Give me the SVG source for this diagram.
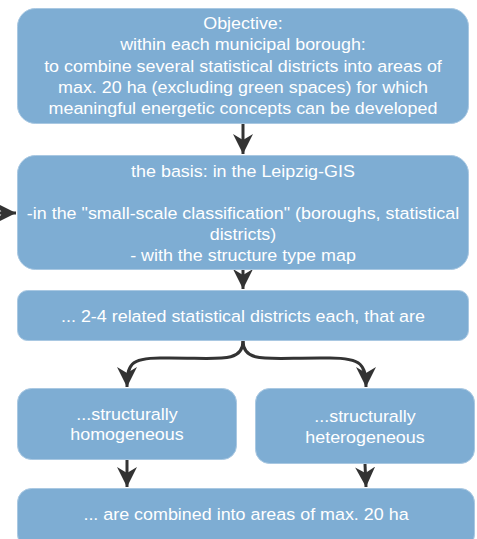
<svg xmlns="http://www.w3.org/2000/svg" width="477" height="539" viewBox="0 0 477 539">
  <style>
    .box { fill: #7eadd3; stroke: #a9c8e2; stroke-width: 1; }
    .lbl { fill: #ffffff; font-family: "Liberation Sans", Arial, sans-serif; font-size: 16.5px; text-anchor: middle; }
    .edge { fill: none; stroke: #333333; stroke-width: 3; }
  </style>
  <defs>
    <marker id="head" viewBox="0 0 22 22" markerWidth="22" markerHeight="22" refX="20" refY="11" orient="auto" markerUnits="userSpaceOnUse">
      <path d="M0,1 L20,11 L0,21 L6,11 Z" fill="#333333"/>
    </marker>
  </defs>
  <rect width="477" height="539" fill="#ffffff"/>

  <g id="connectors">
    <path class="edge" d="M243,124 L243,154" marker-end="url(#head)"/>
    <path class="edge" d="M-20,213 L16,213" marker-end="url(#head)"/>
    <path class="edge" d="M243,270 L243,289" marker-end="url(#head)"/>
    <path class="edge" d="M243,341 C243,365 215,357 160,358 C130,358 127,365 127,387" marker-end="url(#head)"/>
    <path class="edge" d="M243,341 C243,365 271,357 330,358 C362,358 366,365 366,387" marker-end="url(#head)"/>
    <path class="edge" d="M127,460 L127,487" marker-end="url(#head)"/>
    <path class="edge" d="M365,464 L366,487" marker-end="url(#head)"/>
  </g>

  <!-- labels are slightly widened horizontally about each box centre -->
  <g id="objective">
    <rect class="box" x="17.5" y="8.5" width="451" height="115" rx="18"/>
    <g transform="matrix(1.085 0 0 1 -20.655 0)">
      <text class="lbl" x="243" y="29">Objective:</text>
      <text class="lbl" x="243" y="50.5">within each municipal borough:</text>
      <text class="lbl" x="243" y="72">to combine several statistical districts into areas of</text>
      <text class="lbl" x="243" y="93">max. 20 ha (excluding green spaces) for which</text>
      <text class="lbl" x="243" y="114">meaningful energetic concepts can be developed</text>
    </g>
  </g>

  <g id="basis">
    <rect class="box" x="17.5" y="155.5" width="451" height="114" rx="18"/>
    <g transform="matrix(1.085 0 0 1 -20.655 0)">
      <text class="lbl" x="243" y="177">the basis: in the Leipzig-GIS</text>
      <text class="lbl" x="243" y="219">-in the "small-scale classification" (boroughs, statistical</text>
      <text class="lbl" x="243" y="240">districts)</text>
      <text class="lbl" x="243" y="261">- with the structure type map</text>
    </g>
  </g>

  <g id="related">
    <rect class="box" x="17.5" y="290.5" width="451" height="50" rx="10"/>
    <g transform="matrix(1.085 0 0 1 -20.655 0)">
      <text class="lbl" x="243" y="322">... 2-4 related statistical districts each, that are</text>
    </g>
  </g>

  <g id="homogeneous">
    <rect class="box" x="17.5" y="388.5" width="219" height="71" rx="14"/>
    <g transform="matrix(1.085 0 0 1 -10.795 0)">
      <text class="lbl" x="127" y="420">...structurally</text>
      <text class="lbl" x="127" y="440">homogeneous</text>
    </g>
  </g>

  <g id="heterogeneous">
    <rect class="box" x="255.5" y="388.5" width="219" height="75" rx="14"/>
    <g transform="matrix(1.085 0 0 1 -31.025 0)">
      <text class="lbl" x="365" y="422">...structurally</text>
      <text class="lbl" x="365" y="443">heterogeneous</text>
    </g>
  </g>

  <g id="combined">
    <rect class="box" x="17.5" y="488.5" width="457" height="60" rx="14"/>
    <g transform="matrix(1.085 0 0 1 -20.91 0)">
      <text class="lbl" x="246" y="520">... are combined into areas of max. 20 ha</text>
    </g>
  </g>
</svg>
